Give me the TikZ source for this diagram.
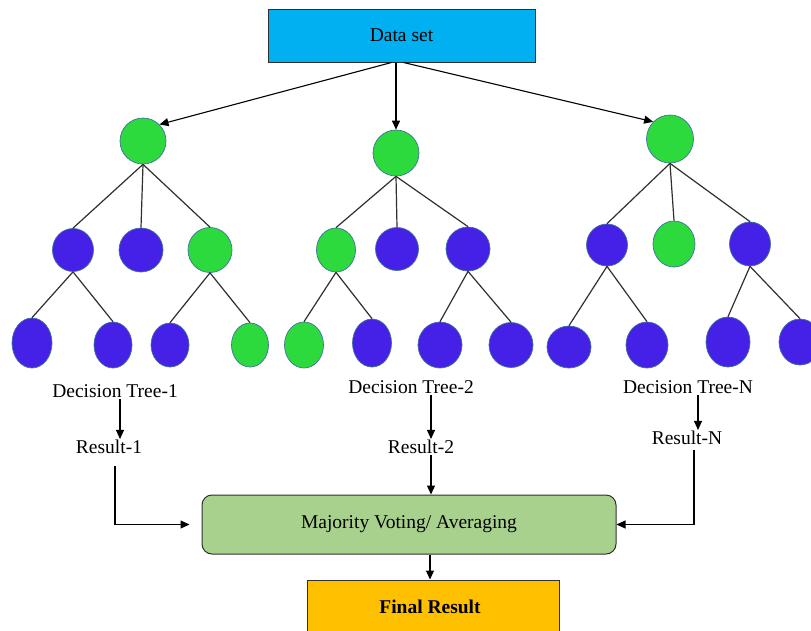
\documentclass[tikz,border=0pt]{standalone}
\usepackage{fontspec}
\setmainfont{Liberation Serif}
\usepackage{tikz}
\usetikzlibrary{shapes.geometric,arrows.meta}

\definecolor{leafgreen}{HTML}{2CDA3E}
\definecolor{leafblue}{HTML}{4520E6}
\definecolor{leafline}{HTML}{41719C}
\definecolor{dsblue}{HTML}{00B0F0}
\definecolor{votegreen}{HTML}{A9D18E}
\definecolor{finalorange}{HTML}{FFC000}
\definecolor{linegray}{HTML}{303030}

\tikzset{
  txt/.style={font=\fontsize{19.5}{23}\selectfont, inner sep=1pt},
  leaf/.style={ellipse, draw=leafline, line width=0.7pt, inner sep=0pt},
  gn/.style={leaf, fill=leafgreen},
  bn/.style={leaf, fill=leafblue},
  br/.style={draw=linegray, line width=1.2pt},
  arr/.style={draw=black, line width=1.1pt, -{Triangle[length=9pt,width=8pt]}}
}

\begin{document}
\begin{tikzpicture}[x=1pt,y=-1pt]
    \clip (0,0) rectangle (811,630);
    \fill[white] (0,0) rectangle (811,630);

    \node[txt, draw=linegray, line width=1pt, fill=dsblue,
          minimum width=267pt, minimum height=53pt] (ds) at (401.5,35.5) {Data set};

    % tree 1
    \node[gn, minimum width=46pt, minimum height=46pt] (r1) at (143,141) {};
    \node[bn, minimum width=41pt, minimum height=43pt] (a1) at (73,250)  {};
    \node[bn, minimum width=44pt, minimum height=44pt] (b1) at (141,250) {};
    \node[gn, minimum width=44pt, minimum height=45pt] (c1) at (210,250) {};
    \node[bn, minimum width=40pt, minimum height=50pt] (a1l) at (32,343)  {};
    \node[bn, minimum width=38pt, minimum height=46pt] (a1r) at (113,345) {};
    \node[bn, minimum width=38pt, minimum height=44pt] (c1l) at (170,345) {};
    \node[gn, minimum width=37pt, minimum height=44pt] (c1r) at (250,345) {};

    % tree 2
    \node[gn, minimum width=46pt, minimum height=46pt] (r2) at (396,153) {};
    \node[gn, minimum width=39pt, minimum height=44pt] (a2) at (336,250) {};
    \node[bn, minimum width=43pt, minimum height=43pt] (b2) at (397,249) {};
    \node[bn, minimum width=44pt, minimum height=44pt] (c2) at (468,249) {};
    \node[gn, minimum width=39pt, minimum height=46pt] (a2l) at (304,345) {};
    \node[bn, minimum width=39pt, minimum height=48pt] (a2r) at (372,343) {};
    \node[bn, minimum width=44pt, minimum height=46pt] (c2l) at (440,345) {};
    \node[bn, minimum width=44pt, minimum height=45pt] (c2r) at (511,345) {};

    % tree N
    \node[gn, minimum width=47pt, minimum height=48pt] (r3) at (670,139) {};
    \node[bn, minimum width=41pt, minimum height=42pt] (a3) at (607,245) {};
    \node[gn, minimum width=42pt, minimum height=46pt] (b3) at (674,244) {};
    \node[bn, minimum width=41pt, minimum height=44pt] (c3) at (750,244) {};
    \node[bn, minimum width=44pt, minimum height=42pt] (a3l) at (569,347) {};
    \node[bn, minimum width=42pt, minimum height=46pt] (a3r) at (647,345) {};
    \node[bn, minimum width=44pt, minimum height=50pt] (c3l) at (728,342) {};
    \node[bn, minimum width=42pt, minimum height=46pt] (c3r) at (800,342) {};

    \foreach \t in {1,2,3} {
        \foreach \c in {a,b,c}
            \draw[br] (r\t.south) -- (\c\t.north);
        \foreach \c in {a,c} {
            \draw[br] (\c\t.south) -- (\c\t l.north);
            \draw[br] (\c\t.south) -- (\c\t r.north);
        }
    }

    \draw[arr] ([xshift=-10pt]ds.south) -- (r1.north east);
    \draw[arr] (ds.south -| r2) -- (r2.north);
    \draw[arr] ([xshift=2pt]ds.south) -- (r3.north west);

    \node[txt] (t1) at (115,391) {Decision Tree-1};
    \node[txt] (t2) at (411,387) {Decision Tree-2};
    \node[txt] (t3) at (688,387) {Decision Tree-N};
    \node[txt] (res1) at (109,447) {Result-1};
    \node[txt] (res2) at (421,447) {Result-2};
    \node[txt] (res3) at (687,438) {Result-N};

    \node[txt, draw=linegray, line width=1pt, fill=votegreen, rounded corners=10pt,
          minimum width=414pt, minimum height=59pt] (vote) at (409,524.5) {Majority Voting/ Averaging};
    \node[txt, draw=linegray, line width=1pt, fill=finalorange,
          minimum width=252pt, minimum height=70pt] (fin) at (433,615) {};
    \node[txt, font=\fontsize{19.5}{23}\selectfont\bfseries] (fintxt) at (430,607) {Final Result};

    \draw[arr] ([xshift=5pt]t1.south) -- ([xshift=5pt]t1.south |- res1.north);
    \draw[arr] ([xshift=20pt]t2.south) -- ([xshift=20pt]t2.south |- res2.north);
    \draw[arr] ([xshift=10pt]t3.south) -- ([xshift=10pt]t3.south |- res3.north);

    \draw[arr, shorten <=11pt, shorten >=12pt] ([xshift=6pt]res1.south) |- (vote.west);
    \draw[arr] ([xshift=10pt]res2.south) -- ([xshift=10pt]res2.south |- vote.north);
    \draw[arr, shorten <=4pt] ([xshift=7pt]res3.south) |- (vote.east);
    \draw[arr] (vote.south -| fintxt) -- (fin.north -| fintxt);
\end{tikzpicture}
\end{document}
